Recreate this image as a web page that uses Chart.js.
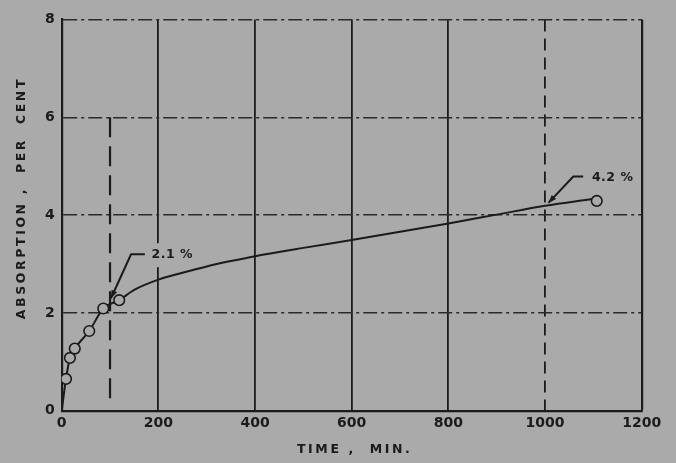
<!DOCTYPE html>
<html><head><meta charset="utf-8">
<script src="https://cdn.jsdelivr.net/npm/chart.js@4.4.1/dist/chart.umd.min.js"></script>
<style>html,body{margin:0;padding:0;background:#aaaaaa;overflow:hidden}</style>
</head><body>
<canvas id="c" width="676" height="463" style="width:676px;height:463px;display:block"></canvas>
<script>
// ---- data ----
const xTickLabels = [0, 200, 400, 600, 800, 1000, 1200];
const yTickLabels = [0, 2, 4, 6, 8];
const measuredTime = [8.9, 17, 27, 57, 86, 119, 1107];
const measuredAbsorption = [0.65, 1.08, 1.27, 1.63, 2.09, 2.26, 4.29];
const curveTime = [0, 8.9, 17, 27, 57, 86, 119, 150, 200, 250, 300, 350, 400, 500, 600, 700, 800, 900, 1000, 1097];
const curveAbsorption = [0, 0.65, 1.08, 1.27, 1.63, 2.09, 2.26, 2.47, 2.68, 2.82, 2.95, 3.06, 3.16, 3.33, 3.49, 3.66, 3.83, 4.01, 4.19, 4.33];
const solidGridTimes = [200, 400, 600, 800, 1200];
const dashedGridTimes = [1000];
const dashDotGridAbsorption = [2, 4, 6, 8];
const markerLineTime = [100, 100];
const markerLineAbsorption = [6, 0.2];
const labelTexts = ['2.1 %', '4.2 %'];
const labelAnchorTime = [186, 1097];
const labelAnchorAbsorption = [3.18, 4.76];
const leaderTime = [[172, 143.5, 102], [1079, 1058.5, 1007]];
const leaderAbsorption = [[3.2, 3.2, 2.3], [4.79, 4.79, 4.25]];
const xTitle = 'TIME ,  MIN.';
const yTitle = 'ABSORPTION ,  PER  CENT';

// ---- styles ----
const BG = '#aaaaaa';
const INK = '#1b1b1b';
const FONT = '"DejaVu Sans", "Liberation Sans", sans-serif';

const toPts = (xs, ys) => xs.map((x, i) => ({x, y: ys[i]}));

const bgPlugin = {
  id: 'bg',
  beforeDraw(chart) {
    const c = chart.ctx;
    c.save(); c.fillStyle = BG; c.fillRect(0, 0, chart.width, chart.height); c.restore();
  }
};

const notesPlugin = {
  id: 'notes',
  afterDatasetsDraw(chart) {
    const c = chart.ctx, xs = chart.scales.x, ys = chart.scales.y;
    c.save();
    c.strokeStyle = INK; c.fillStyle = INK; c.lineWidth = 2; c.lineJoin = 'round';
    for (let k = 0; k < labelTexts.length; k++) {
      const px = leaderTime[k].map(v => xs.getPixelForValue(v));
      const py = leaderAbsorption[k].map(v => ys.getPixelForValue(v));
      c.beginPath(); c.moveTo(px[0], py[0]);
      for (let i = 1; i < px.length; i++) c.lineTo(px[i], py[i]);
      c.stroke();
      const n = px.length - 1;
      const ang = Math.atan2(py[n] - py[n - 1], px[n] - px[n - 1]);
      const L = 8, W = 3;
      c.beginPath();
      c.moveTo(px[n], py[n]);
      c.lineTo(px[n] - L * Math.cos(ang) + W * Math.sin(ang), py[n] - L * Math.sin(ang) - W * Math.cos(ang));
      c.lineTo(px[n] - L * Math.cos(ang) - W * Math.sin(ang), py[n] - L * Math.sin(ang) + W * Math.cos(ang));
      c.closePath(); c.fill();
      const tx = xs.getPixelForValue(labelAnchorTime[k]);
      const ty = ys.getPixelForValue(labelAnchorAbsorption[k]);
      c.font = 'bold 12.5px ' + FONT;
      c.letterSpacing = '0.5px';
      const w = c.measureText(labelTexts[k]).width;
      c.fillStyle = BG; c.fillRect(tx - 5, ty - 12, w + 8, 24);
      c.fillStyle = INK; c.textAlign = 'left'; c.textBaseline = 'middle';
      c.fillText(labelTexts[k], tx, ty);
    }
    c.restore();
  },
  afterDraw(chart) {
    const c = chart.ctx, a = chart.chartArea;
    c.save();
    c.fillStyle = INK;
    c.font = 'bold 12.5px ' + FONT;
    c.letterSpacing = '2.6px';
    c.textAlign = 'center'; c.textBaseline = 'middle';
    c.fillText(xTitle, (a.left + a.right) / 2 + 3, a.bottom + 39);
    c.translate(a.left - 40, (a.top + a.bottom) / 2 - 17);
    c.rotate(-Math.PI / 2);
    c.fillText(yTitle, 0, 0);
    c.restore();
  }
};

new Chart(document.getElementById('c'), {
  type: 'scatter',
  data: {
    datasets: [
      {
        label: 'measured',
        data: toPts(measuredTime, measuredAbsorption),
        showLine: false,
        pointStyle: 'circle',
        pointRadius: 5.3,
        pointBorderWidth: 1.6,
        pointBackgroundColor: BG,
        pointBorderColor: INK
      },
      {
        label: 'curve',
        data: toPts(curveTime, curveAbsorption),
        showLine: true,
        borderColor: INK,
        borderWidth: 2,
        pointRadius: 0,
        cubicInterpolationMode: 'monotone'
      },
      {
        label: 'marker',
        data: toPts(markerLineTime, markerLineAbsorption),
        showLine: true,
        borderColor: INK,
        borderWidth: 2.2,
        borderDash: [20, 9],
        pointRadius: 0
      }
    ]
  },
  options: {
    responsive: false,
    animation: false,
    events: [],
    layout: { padding: { top: 19.5, right: 34.3, left: 0, bottom: 0 } },
    plugins: { legend: { display: false }, tooltip: { enabled: false } },
    scales: {
      x: {
        type: 'linear', min: 0, max: 1200,
        afterFit(s) { s.height = 52.3; },
        afterBuildTicks(s) { s.ticks = xTickLabels.map(v => ({value: v})); },
        ticks: {
          autoSkip: false, maxRotation: 0, padding: 4,
          color: INK, font: { family: FONT, weight: 'bold', size: 14 },
          callback: v => String(v)
        },
        grid: {
          drawTicks: false,
          color: ctx => (solidGridTimes.includes(ctx.tick && ctx.tick.value) || dashedGridTimes.includes(ctx.tick && ctx.tick.value)) ? INK : 'rgba(0,0,0,0)',
          lineWidth: ctx => (ctx.tick && ctx.tick.value === 1200) ? 2.2 : 1.8
        },
        border: {
          display: true, color: INK, width: 2.2,
          dash: ctx => dashedGridTimes.includes(ctx.tick && ctx.tick.value) ? [12, 7] : []
        }
      },
      y: {
        type: 'linear', min: 0, max: 8,
        afterFit(s) { s.width = 61.7; },
        afterBuildTicks(s) { s.ticks = yTickLabels.map(v => ({value: v})); },
        ticks: {
          padding: 7, color: INK, font: { family: FONT, weight: 'bold', size: 14 }
        },
        grid: {
          drawTicks: false,
          color: ctx => dashDotGridAbsorption.includes(ctx.tick && ctx.tick.value) ? '#2a2a2a' : 'rgba(0,0,0,0)',
          lineWidth: 1.5
        },
        border: {
          display: true, color: INK, width: 2.2,
          dash: ctx => [14, 4, 3, 4]
        }
      }
    }
  },
  plugins: [bgPlugin, notesPlugin]
});
</script>
</body></html>
